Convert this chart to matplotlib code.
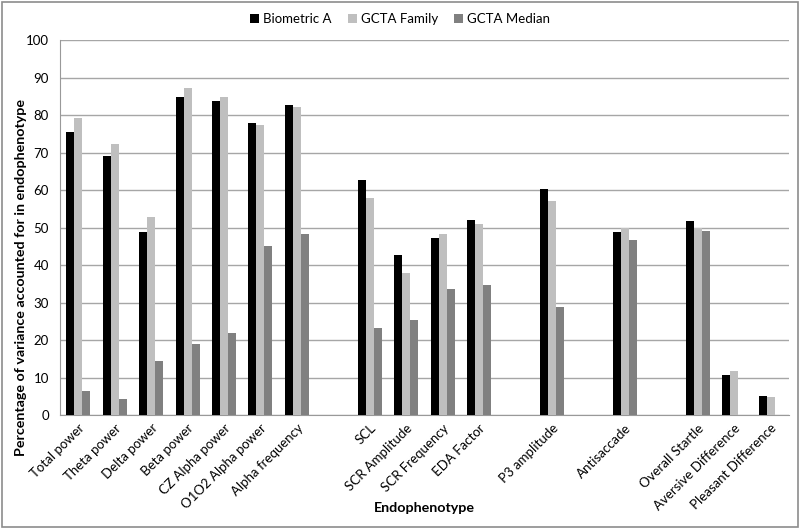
import numpy as np
import matplotlib.pyplot as plt
from matplotlib.patches import Rectangle

plt.rcParams['font.family'] = ['Lato', 'DejaVu Sans']

# empty strings are the spacer slots between groups
categories = ["Total power", "Theta power", "Delta power", "Beta power",
              "CZ Alpha power", "O1O2 Alpha power", "Alpha frequency", "",
              "SCL", "SCR Amplitude", "SCR Frequency", "EDA Factor", "",
              "P3 amplitude", "", "Antisaccade", "",
              "Overall Startle", "Aversive Difference", "Pleasant Difference"]

biometric_a = [75.6, 69.0, 48.8, 84.8, 83.8, 78.0, 82.6, np.nan,
               62.7, 42.7, 47.2, 52.0, np.nan,
               60.2, np.nan, 48.8, np.nan,
               51.8, 10.8, 5.1]
gcta_family = [79.3, 72.4, 52.8, 87.2, 84.9, 77.3, 82.3, np.nan,
               58.0, 38.0, 48.4, 50.9, np.nan,
               57.1, np.nan, 49.9, np.nan,
               49.8, 11.7, 4.7]
gcta_median = [6.3, 4.2, 14.4, 18.9, 21.9, 45.0, 48.3, np.nan,
               23.2, 25.3, 33.5, 34.8, np.nan,
               28.9, np.nan, 46.7, np.nan,
               49.2, np.nan, np.nan]

series = [("Biometric A", biometric_a, "#000000"),
          ("GCTA Family", gcta_family, "#BFBFBF"),
          ("GCTA Median", gcta_median, "#808080")]

fig = plt.figure(figsize=(8, 5.29), dpi=100)
ax = fig.add_axes([0.075, 0.2155, 0.911, 0.7085])

x = np.arange(len(categories))
w = 0.22
for i, (name, vals, col) in enumerate(series):
    ax.bar(x + (i - 1) * w, vals, width=w, color=col, label=name, zorder=3)

ax.set_xlim(-0.5, len(categories) - 0.5)
ax.set_ylim(0, 100)
ax.set_yticks(np.arange(0, 101, 10))
ax.yaxis.grid(True, color="#A6A6A6", linewidth=1)
ax.set_axisbelow(True)
for s in ["top", "right"]:
    ax.spines[s].set_visible(False)
ax.spines["left"].set_color("#999999")
ax.spines["bottom"].set_color("#999999")
ax.tick_params(axis="y", length=0, labelsize=9.5, pad=8)
ax.tick_params(axis="x", length=0, labelsize=9.5, pad=5)
ax.set_xticks(x)
ax.set_xticklabels(categories, rotation=45, ha="right", rotation_mode="anchor")

fig.text(0.026, 0.475, "Percentage of variance accounted for in endophenotype",
         rotation=90, ha="center", va="center", fontsize=10.3, fontweight="bold")
fig.text(0.53, 0.04, "Endophenotype", ha="center", va="center",
         fontsize=10.3, fontweight="bold")

fig.legend(loc="upper center", bbox_to_anchor=(0.5, 0.997), ncol=3, frameon=False,
           fontsize=9.5, handlelength=0.7, handleheight=0.7, columnspacing=1.2,
           handletextpad=0.3)

fig.patches.append(Rectangle((0.002, 0.003), 0.996, 0.994, transform=fig.transFigure,
                             fill=False, edgecolor="#8C8C8C", linewidth=1.2))

fig.savefig("out.png", dpi=100)
